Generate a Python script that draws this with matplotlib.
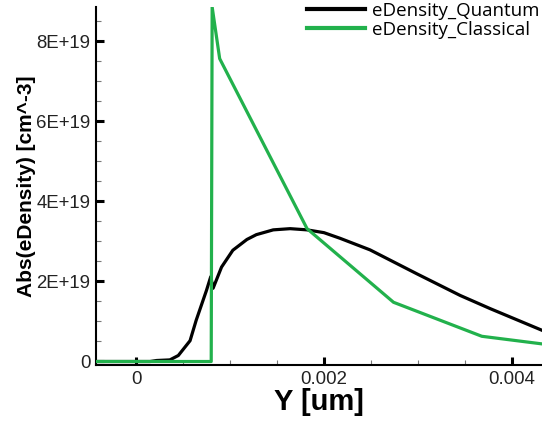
import numpy as np
import matplotlib
matplotlib.use('Agg')
import matplotlib.pyplot as plt
from matplotlib.ticker import MultipleLocator

# data (Y in um, density in cm^-3)
y_quantum = [-0.0005, 0.0, 0.00015, 0.00022, 0.00036, 0.00045, 0.000575, 0.00064, 0.00075,
             0.000795, 0.00082, 0.00091, 0.00103, 0.00118, 0.00128, 0.00146, 0.00164, 0.00182,
             0.002, 0.00217, 0.00249, 0.00299, 0.00345, 0.00377, 0.00432, 0.0045]
n_quantum = [0.0, 0.0, 0.0, 0.025e19, 0.04e19, 0.15e19, 0.52e19, 1.03e19, 1.78e19,
             2.12e19, 1.83e19, 2.36e19, 2.78e19, 3.05e19, 3.17e19, 3.29e19, 3.32e19, 3.29e19,
             3.22e19, 3.08e19, 2.79e19, 2.19e19, 1.65e19, 1.32e19, 0.78e19, 0.6e19]

y_classical = [-0.0005, 0.0008, 0.0008, 0.00081, 0.00089, 0.00182, 0.00274, 0.00368, 0.00432, 0.0045]
n_classical = [0.0, 0.0, 0.0, 8.86e19, 7.57e19, 3.32e19, 1.48e19, 0.63e19, 0.44e19, 0.40e19]

x_ticks = [0, 0.002, 0.004]
x_tick_labels = ['0', '0.002', '0.004']
y_ticks = [0, 2e19, 4e19, 6e19, 8e19]
y_tick_labels = ['0', '2E+19', '4E+19', '6E+19', '8E+19']

fig = plt.figure(figsize=(5.42, 4.21), dpi=100)
ax = fig.add_axes([96/542, 1 - 365/421, 446/542, 358/421])

ax.plot(y_quantum, n_quantum, color='black', lw=2.3, label='eDensity_Quantum', zorder=3)
ax.plot(y_classical, n_classical, color='#22b14c', lw=2.3, label='eDensity_Classical', zorder=4)

ax.set_xlim(-0.000426, 0.00432)
ax.set_ylim(-0.0875e19, 8.86e19)

ax.spines['top'].set_visible(False)
ax.spines['right'].set_visible(False)
ax.spines['left'].set_linewidth(1.5)
ax.spines['bottom'].set_linewidth(1.5)

ax.set_xticks(x_ticks)
ax.set_xticklabels(x_tick_labels)
ax.set_yticks(y_ticks)
ax.set_yticklabels(y_tick_labels)
ax.xaxis.set_minor_locator(MultipleLocator(0.0005))
ax.yaxis.set_minor_locator(MultipleLocator(0.5e19))
ax.tick_params(which='major', direction='in', length=6, width=2.2, labelsize=13.4,
               labelcolor='#222222', pad=4)
ax.tick_params(which='minor', direction='in', length=3.5, width=0.8, color='#777777')
for lab in ax.get_xticklabels() + ax.get_yticklabels():
    lab.set_family('Liberation Sans')

ax.set_ylabel('Abs(eDensity) [cm^-3]', fontsize=15, fontweight='bold',
              family='Liberation Sans', labelpad=0)
ax.set_xlabel('Y [um]', fontsize=21, fontweight='bold', family='Liberation Sans', labelpad=0)

leg = ax.legend(loc='upper left', bbox_to_anchor=(305/542, 1.0), bbox_transform=fig.transFigure,
                frameon=False, handlelength=3.1, handletextpad=0.35, borderpad=0.1,
                borderaxespad=0, labelspacing=0.05, prop={'family': 'Open Sans', 'size': 13.5})
for line in leg.get_lines():
    line.set_linewidth(3)

fig.savefig('out.png', dpi=100)
